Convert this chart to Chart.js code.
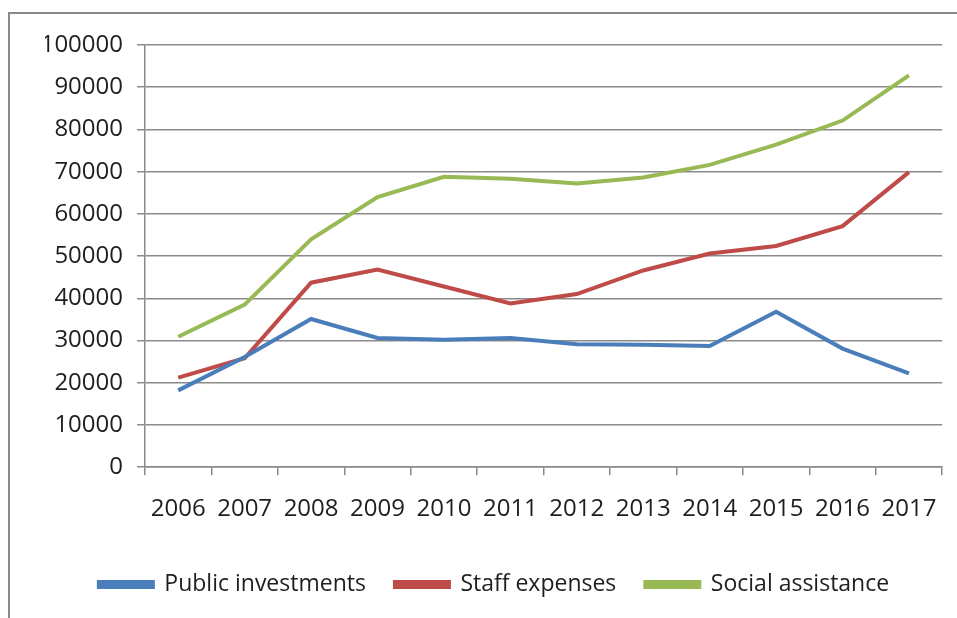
<!DOCTYPE html>
<html>
<head>
<meta charset="utf-8">
<script src="https://cdn.jsdelivr.net/npm/chart.js@4.4.0/dist/chart.umd.min.js"></script>
<style>
    html, body { margin: 0; padding: 0; background: #ffffff; overflow: hidden; }
    #wrap { position: relative; width: 957px; height: 618px; }
    #frame {
        position: absolute; left: 8px; top: 12px; width: 960px; height: 620px;
        border-left: 2px solid #8a8a8a; border-top: 2px solid #8a8a8a;
        pointer-events: none;
    }
</style>
</head>
<body>
<div id="wrap">
    <canvas id="myChart" width="957" height="618"></canvas>
    <div id="frame"></div>
</div>
<script>
const years = ['2006', '2007', '2008', '2009', '2010', '2011', '2012', '2013', '2014', '2015', '2016', '2017'];
const publicInvestments = [18200, 26100, 35100, 30600, 30200, 30600, 29100, 29000, 28700, 36800, 28100, 22200];
const staffExpenses = [21200, 25800, 43700, 46800, 42800, 38800, 41000, 46600, 50600, 52400, 57100, 69900];
const socialAssistance = [30900, 38500, 54000, 64000, 68800, 68300, 67200, 68600, 71600, 76400, 82100, 92800];
const yTicks = [0, 10000, 20000, 30000, 40000, 50000, 60000, 70000, 80000, 90000, 100000];

const fontFamily = "'Open Sans', sans-serif";
const textColor = '#1e1e1e';

function makeSeries(label, data, color) {
    return {
        label: label,
        data: data,
        borderColor: color,
        backgroundColor: color,
        borderWidth: 4,
        fill: false,
        tension: 0,
        pointRadius: 0,
        pointHoverRadius: 0
    };
}

const ctx = document.getElementById('myChart').getContext('2d');
const myChart = new Chart(ctx, {
    type: 'line',
    data: {
        labels: years,
        datasets: [
            makeSeries('Public investments', publicInvestments, '#4a7ebb'),
            makeSeries('Staff expenses', staffExpenses, '#be4b48'),
            makeSeries('Social assistance', socialAssistance, '#98b954')
        ]
    },
    options: {
        responsive: false,
        animation: false,
        events: [],
        layout: {
            // left padding keeps the legend centred where the original has it
            padding: { left: 45, right: 14, top: 45, bottom: 12 }
        },
        plugins: {
            legend: {
                display: true,
                position: 'bottom',
                labels: {
                    color: textColor,
                    font: { family: fontFamily, size: 23 },
                    boxWidth: 54,
                    boxHeight: 5,
                    padding: 29
                }
            },
            tooltip: { enabled: false }
        },
        scales: {
            x: {
                offset: true,
                grid: {
                    offset: true,
                    drawOnChartArea: false,
                    drawTicks: true,
                    tickLength: 8,
                    color: '#8a8a8a',
                    lineWidth: 1.5
                },
                border: { color: '#8a8a8a', width: 1.5 },
                ticks: {
                    color: textColor,
                    font: { family: fontFamily, size: 24 },
                    padding: 20,
                    maxRotation: 0,
                    autoSkip: false
                }
            },
            y: {
                min: 0,
                max: 100000,
                afterBuildTicks: (axis) => {
                    axis.ticks = yTicks.map(v => ({ value: v }));
                },
                afterFit: (axis) => {
                    axis.width = 100;
                },
                grid: {
                    color: '#8a8a8a',
                    lineWidth: 1.5,
                    tickLength: 8
                },
                border: { color: '#8a8a8a', width: 1.5 },
                ticks: {
                    color: textColor,
                    font: { family: fontFamily, size: 24 },
                    padding: 14,
                    callback: (value) => String(value)
                }
            }
        }
    }
});
</script>
</body>
</html>
